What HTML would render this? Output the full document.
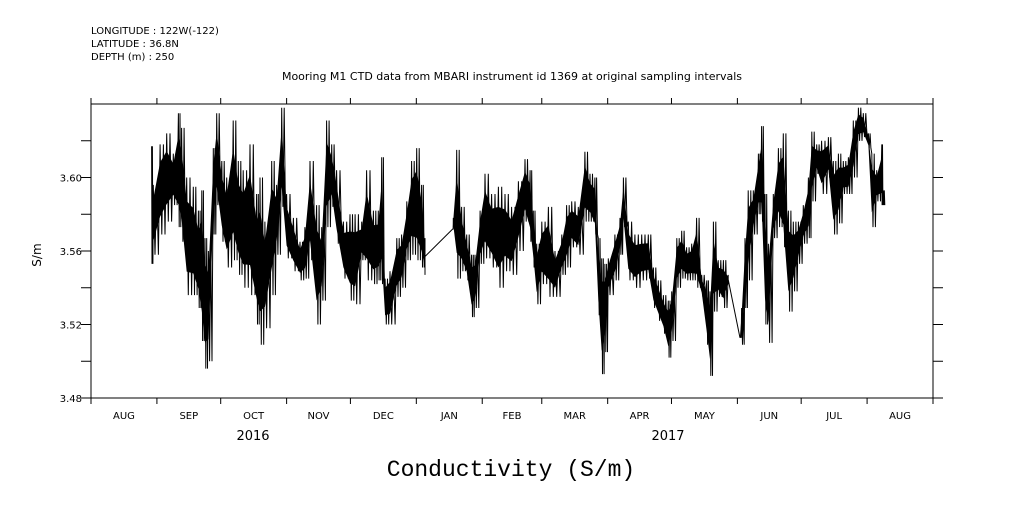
<!DOCTYPE html>
<html><head><meta charset="utf-8"><style>
body{margin:0;background:#fff;width:1009px;height:504px;overflow:hidden}
svg text{font-family:"DejaVu Sans","Liberation Sans",sans-serif;fill:#000}
</style></head><body>
<svg id="chart" width="1009" height="504" viewBox="0 0 1009 504" xmlns="http://www.w3.org/2000/svg">
<text x="91" y="34" font-size="10">LONGITUDE : 122W(-122)</text>
<text x="91" y="47" font-size="10">LATITUDE : 36.8N</text>
<text x="91" y="60" font-size="10">DEPTH (m) : 250</text>
<text x="512" y="80" font-size="11" text-anchor="middle">Mooring M1 CTD data from MBARI instrument id 1369 at original sampling intervals</text>
<text x="41" y="255" font-size="12" text-anchor="middle" transform="rotate(-90 41 255)">S/m</text>
<text x="511" y="476" font-size="23" text-anchor="middle" style="font-family:'Liberation Mono','DejaVu Sans Mono',monospace">Conductivity (S/m)</text>
<text x="253" y="440" font-size="13" text-anchor="middle">2016</text>
<text x="668" y="440" font-size="13" text-anchor="middle">2017</text>
<rect x="91" y="104" width="842" height="294" fill="none" stroke="#000" stroke-width="1"/>
<g id="axes"></g>
<g id="bands"></g>
<polyline id="series" fill="none" stroke="#000" stroke-width="1"/>
</svg>
<script>
const monthLabels=["AUG","SEP","OCT","NOV","DEC","JAN","FEB","MAR","APR","MAY","JUN","JUL","AUG"];
const monthStartDays=[0,31,61,92,122,153,184,212,243,273,304,334,365,396];
const yTicks=[3.48,3.50,3.52,3.54,3.56,3.58,3.60,3.62];
const yTickLabels=["3.48","","3.52","","3.56","","3.60",""];
const days=[28.5,29.3,32.5,35.6,38.7,41.1,42.6,45.0,48.1,50.5,52.1,53.6,55.2,57.5,59.1,61.5,63.8,66.9,69.3,71.6,74.8,77.9,79.5,81.8,85.0,87.3,89.7,92.0,95.2,98.3,100.6,103.0,106.1,108.5,110.8,113.2,115.5,118.7,121.8,124.2,127.3,129.6,132.8,135.1,136.7,138.3,140.6,143.8,146.1,148.5,150.8,153.2,155.5,157.1,170.1,170.4,172.0,174.3,176.7,179.0,180.6,183.0,185.3,188.4,191.6,194.7,197.8,201.0,204.1,206.5,208.0,209.6,212.0,215.1,218.2,221.4,223.7,226.1,229.2,232.3,234.7,237.0,238.6,240.2,241.7,243.3,246.4,248.8,250.4,252.7,255.8,259.0,262.1,264.5,266.8,269.2,271.5,273.1,275.5,277.8,280.1,282.5,284.8,287.2,289.6,291.1,292.7,295.0,297.4,299.7,305.2,306.0,307.6,309.1,311.5,313.9,315.4,317.0,318.6,320.9,323.3,325.6,328.0,330.3,332.7,335.0,337.4,339.0,341.3,343.6,346.8,349.1,351.5,353.8,356.2,358.5,360.9,363.2,365.6,367.2,369.5,371.9,372.6];
const hiVals=[3.617,3.596,3.618,3.624,3.613,3.635,3.627,3.600,3.595,3.582,3.593,3.567,3.560,3.616,3.635,3.609,3.600,3.631,3.609,3.604,3.618,3.591,3.600,3.576,3.609,3.596,3.638,3.591,3.578,3.565,3.573,3.609,3.585,3.573,3.631,3.618,3.604,3.576,3.580,3.580,3.576,3.604,3.582,3.582,3.611,3.545,3.549,3.567,3.569,3.587,3.609,3.616,3.596,3.567,3.572,3.578,3.615,3.584,3.569,3.558,3.558,3.582,3.602,3.591,3.595,3.591,3.584,3.598,3.610,3.604,3.582,3.564,3.576,3.584,3.560,3.569,3.585,3.587,3.584,3.614,3.602,3.600,3.567,3.556,3.553,3.556,3.569,3.578,3.600,3.576,3.569,3.569,3.569,3.551,3.544,3.536,3.533,3.538,3.567,3.571,3.562,3.564,3.578,3.547,3.544,3.538,3.576,3.555,3.555,3.547,3.513,3.529,3.567,3.593,3.593,3.613,3.628,3.591,3.564,3.591,3.616,3.624,3.582,3.576,3.576,3.585,3.600,3.625,3.618,3.620,3.622,3.609,3.613,3.609,3.611,3.631,3.638,3.635,3.624,3.613,3.604,3.618,3.593];
const loVals=[3.553,3.558,3.569,3.576,3.585,3.573,3.565,3.536,3.536,3.529,3.511,3.496,3.500,3.569,3.585,3.565,3.551,3.555,3.547,3.540,3.536,3.520,3.509,3.518,3.536,3.558,3.584,3.556,3.549,3.544,3.545,3.555,3.520,3.533,3.573,3.584,3.564,3.545,3.533,3.531,3.555,3.544,3.542,3.544,3.542,3.520,3.520,3.535,3.540,3.555,3.558,3.555,3.551,3.547,3.572,3.573,3.545,3.549,3.544,3.524,3.529,3.553,3.556,3.551,3.540,3.549,3.547,3.560,3.576,3.565,3.551,3.531,3.542,3.535,3.535,3.547,3.551,3.562,3.558,3.576,3.576,3.569,3.525,3.493,3.505,3.536,3.544,3.558,3.573,3.544,3.540,3.544,3.545,3.529,3.522,3.515,3.502,3.511,3.540,3.545,3.544,3.544,3.540,3.535,3.509,3.492,3.527,3.535,3.529,3.542,3.513,3.509,3.529,3.544,3.569,3.580,3.576,3.520,3.510,3.567,3.573,3.562,3.527,3.538,3.553,3.564,3.567,3.587,3.602,3.591,3.600,3.569,3.575,3.591,3.591,3.600,3.620,3.622,3.616,3.573,3.587,3.585,3.585];

const X0=91,X1=933,Y0=398,Y1=104,DMAX=396,VMIN=3.48,VMAX=3.64;
const xs=d=>X0+(X1-X0)*d/DMAX;
const ys=v=>Y0-(Y0-Y1)*(v-VMIN)/(VMAX-VMIN);
const NS="http://www.w3.org/2000/svg";
const axes=document.getElementById('axes');
function ln(x1,y1,x2,y2,name){const l=document.createElementNS(NS,'line');
l.setAttribute('x1',x1);l.setAttribute('y1',y1);l.setAttribute('x2',x2);l.setAttribute('y2',y2);
l.setAttribute('stroke','#000');l.setAttribute('stroke-width','1');


axes.appendChild(l);}
function tx(x,y,s,anchor,name){const t=document.createElementNS(NS,'text');
t.setAttribute('x',x);t.setAttribute('y',y);t.setAttribute('font-size','10');t.setAttribute('text-anchor',anchor);t.textContent=s;


axes.appendChild(t);}
monthStartDays.forEach(d=>{const x=xs(d);ln(x,Y0,x,Y0+6,'x-tick');ln(x,Y1,x,Y1-6,'x-tick-top');});
monthLabels.forEach((m,i)=>{const x=(xs(monthStartDays[i])+xs(monthStartDays[i+1]))/2;tx(x,419,m,'middle','x-tick-label');});
yTicks.forEach((v,i)=>{const y=ys(v);ln(X0-10,y,X0,y,'y-tick');ln(X1,y,X1+10,y,'y-tick-right');
if(yTickLabels[i])tx(X0-9,y+4,yTickLabels[i],'end','y-tick-label');});
// inner band (central 60% of each range) as solid fill
const bands=document.getElementById('bands');
let seg=[];
function flush(){if(seg.length<2){seg=[];return;}
 const top=seg.map(i=>xs(days[i]).toFixed(1)+','+ys(loVals[i]+(hiVals[i]-loVals[i])*0.8).toFixed(1));
 const bot=seg.slice().reverse().map(i=>xs(days[i]).toFixed(1)+','+ys(loVals[i]+(hiVals[i]-loVals[i])*0.2).toFixed(1));
 const p=document.createElementNS(NS,'polygon');
 p.setAttribute('points',top.concat(bot).join(' '));p.setAttribute('fill','#000');
 
 
 bands.appendChild(p);seg=[];}
for(let i=0;i<days.length;i++){seg.push(i);if(i<days.length-1&&days[i+1]-days[i]>4)flush();}
flush();
const pts=[];
for(let i=0;i<days.length;i++){
 const d=days[i],dn=i<days.length-1?days[i+1]:d+1;
 if(dn-d>4){pts.push([xs(d),ys(hiVals[i])],[xs(d),ys(loVals[i])],[xs(d),ys((hiVals[i]+loVals[i])/2)]);continue;}
 const n=4;
 const st=(dn-d)/n;
 for(let k=0;k<n;k++){pts.push([xs(d+k*st),ys(k%2?loVals[i]:hiVals[i])]);}
}
document.getElementById('series').setAttribute('points',pts.map(p=>p[0].toFixed(1)+','+p[1].toFixed(1)).join(' '));
</script>
</body></html>
